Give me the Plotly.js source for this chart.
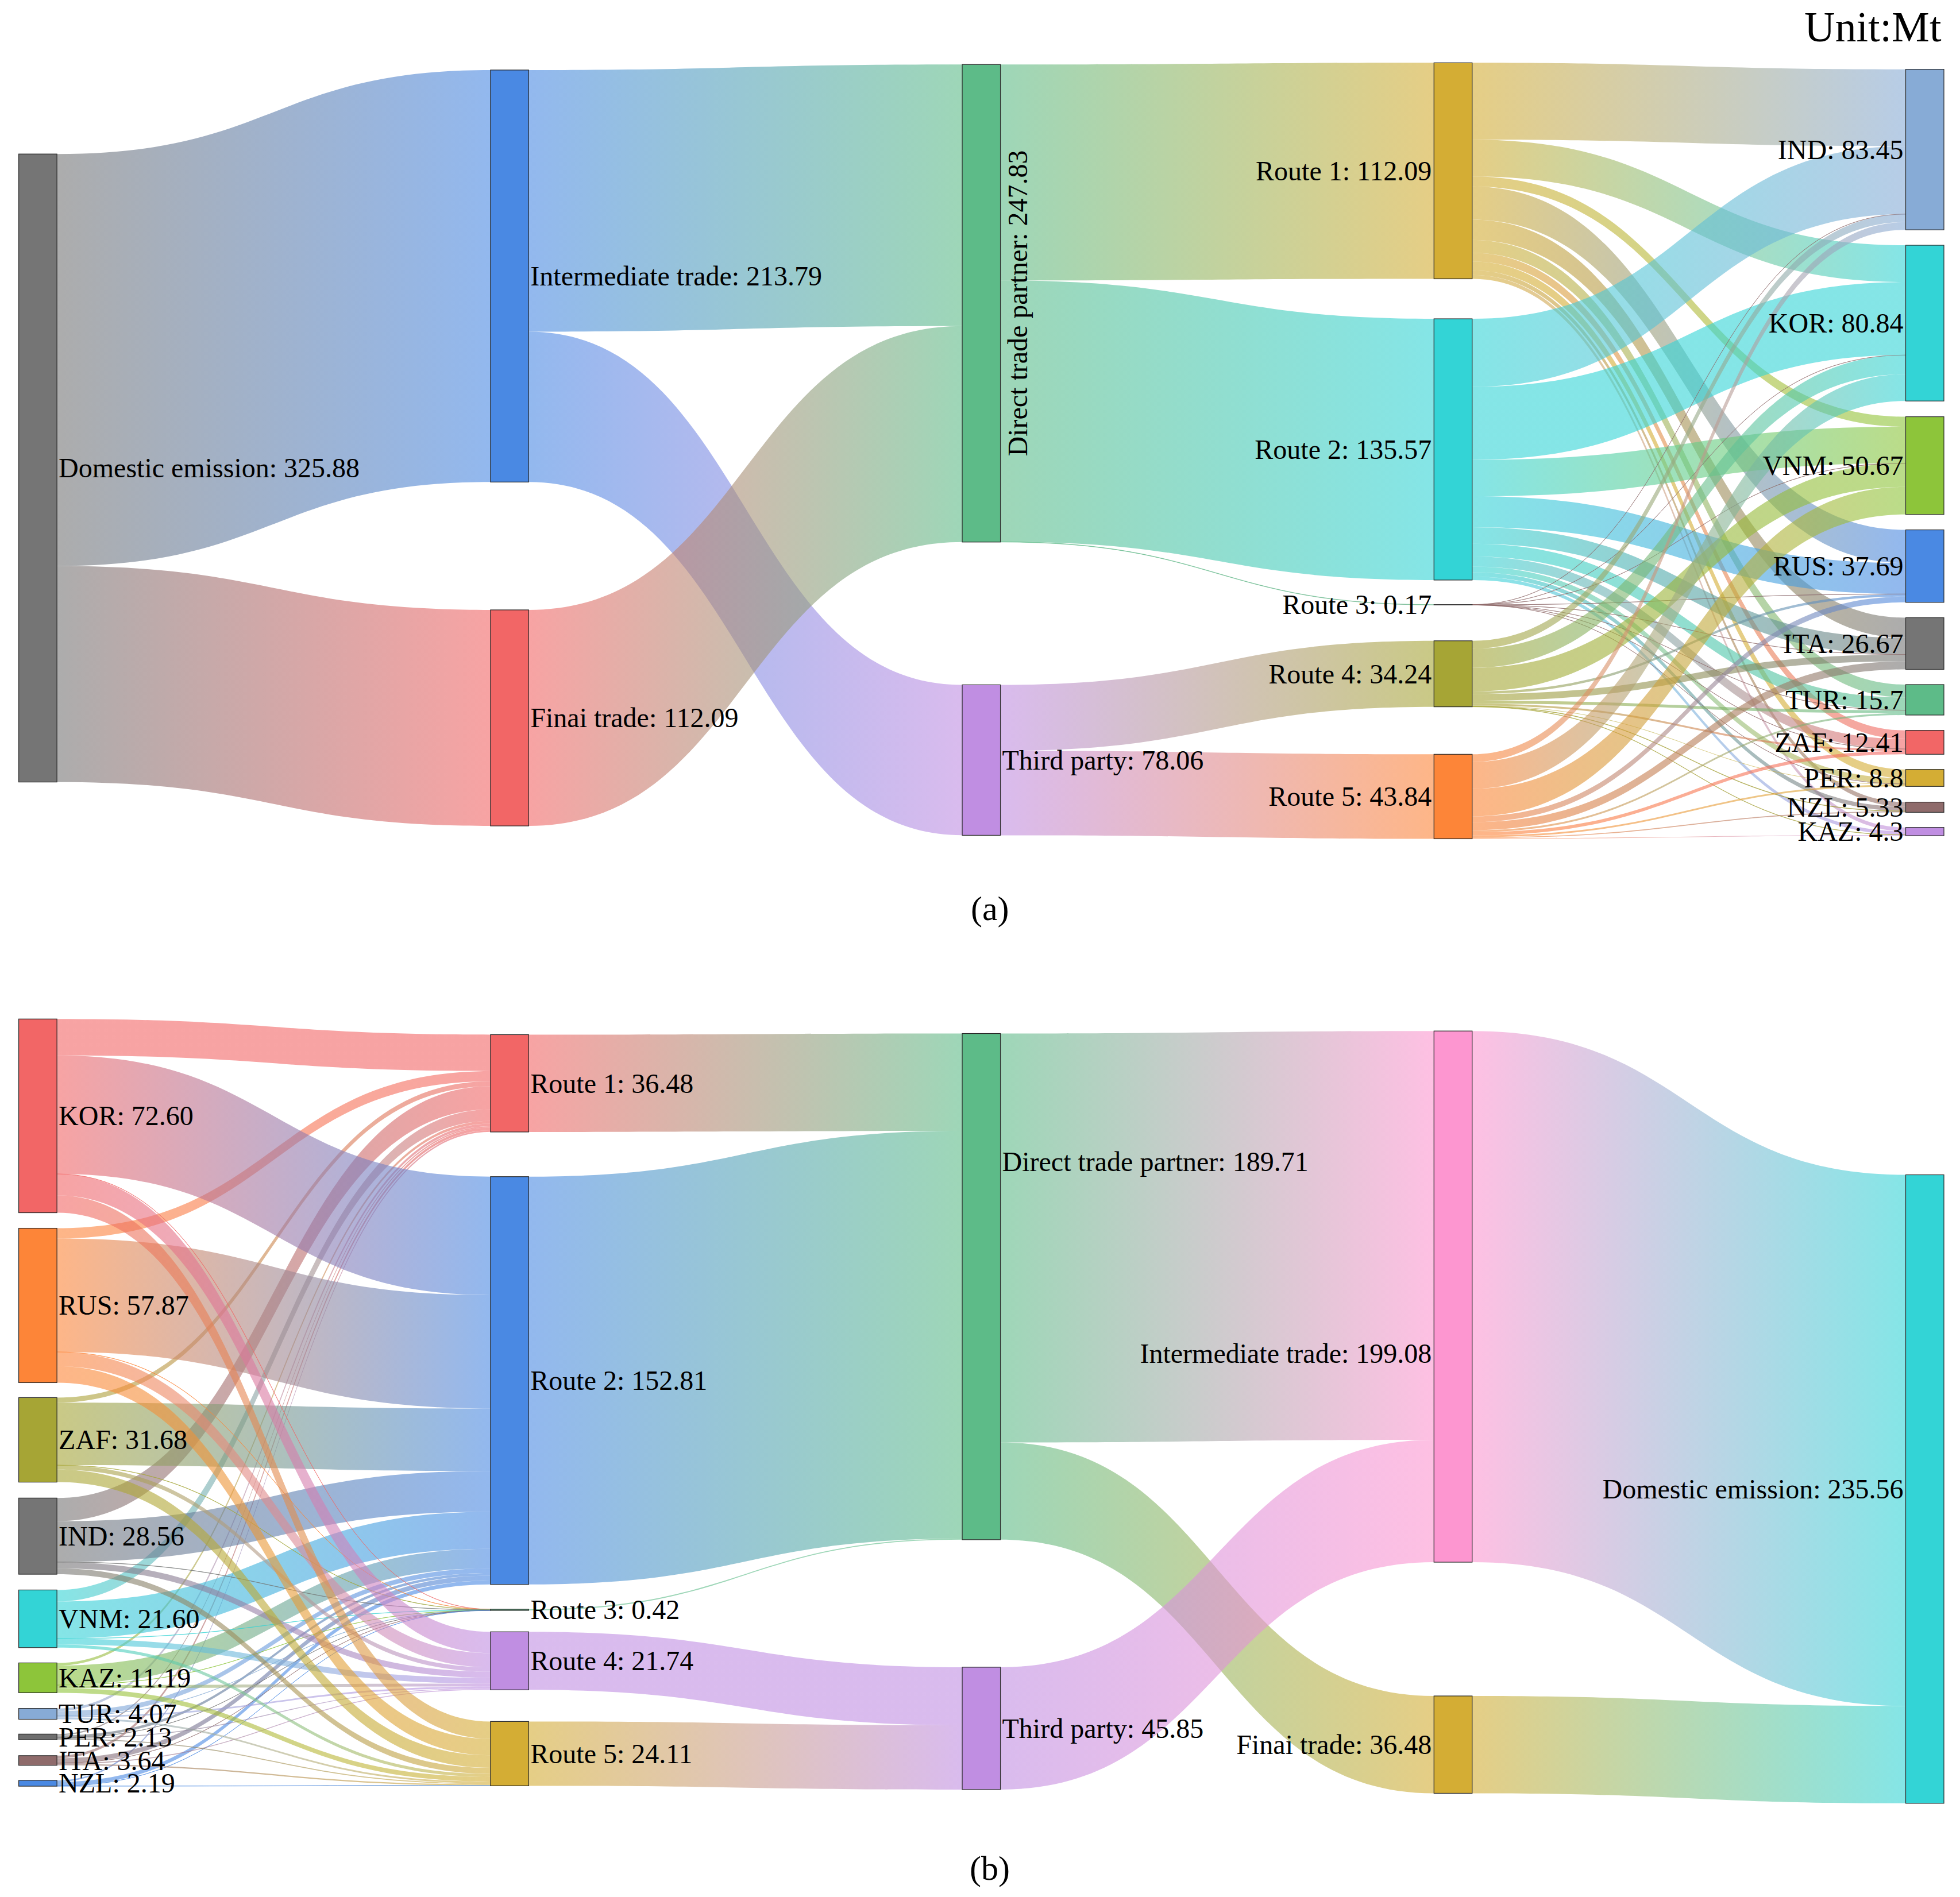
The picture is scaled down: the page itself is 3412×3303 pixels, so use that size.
<!DOCTYPE html>
<html>
<head>
<meta charset="utf-8">
<script src="https://cdn.plot.ly/plotly-3.0.1.min.js"></script>
<style>
html,body{margin:0;padding:0;background:#ffffff;}
#chart{width:3412px;height:3303px;}
</style>
</head>
<body>
<div id="chart"></div>
<script>
// ================= DATA : panel (a) =================
const nodesA  = ['Domestic emission','Intermediate trade','Finai trade','Direct trade partner','Third party',
                 'Route 1','Route 2','Route 3','Route 4','Route 5',
                 'IND','KOR','VNM','RUS','ITA','TUR','ZAF','PER','NZL','KAZ'];
const totalsA = ['325.88','213.79','112.09','247.83','78.06',
                 '112.09','135.57','0.17','34.24','43.84',
                 '83.45','80.84','50.67','37.69','26.67','15.7','12.41','8.8','5.33','4.3'];
const upperSrcA = ['Domestic emission','Domestic emission','Intermediate trade','Intermediate trade','Finai trade',
                   'Direct trade partner','Direct trade partner','Direct trade partner','Third party','Third party'];
const upperTgtA = ['Intermediate trade','Finai trade','Direct trade partner','Third party','Direct trade partner',
                   'Route 1','Route 2','Route 3','Route 4','Route 5'];
const upperValA = [213.79,112.09,135.74,78.05,112.09,112.09,135.57,0.17,34.24,43.84];
const routesA    = ['Route 1','Route 2','Route 3','Route 4','Route 5'];
const countriesA = ['IND','KOR','VNM','RUS','ITA','TUR','ZAF','PER','NZL','KAZ'];
const route1A = [39.9, 19.1, 5.2, 17.2, 10.5, 6.7, 4.5, 4.6, 2.4, 2.0];
const route2A = [35.27, 37.9, 18.9, 16.1, 8.6, 6.6, 5.2, 3.0, 2.2, 1.8];
const route3A = [0.03, 0.03, 0.03, 0.03, 0.02, 0.01, 0.01, 0.01, 0, 0];
const route4A = [4.1, 9.9, 12.3, 1.3, 3.5, 1.5, 1.0, 0.3, 0.2, 0.14];
const route5A = [4.0, 13.9, 14.3, 3.0, 4.2, 1.0, 1.7, 0.9, 0.5, 0.34];

// ================= DATA : panel (b) =================
const nodesB  = ['KOR','RUS','ZAF','IND','VNM','KAZ','TUR','PER','ITA','NZL',
                 'Route 1','Route 2','Route 3','Route 4','Route 5',
                 'Direct trade partner','Third party','Intermediate trade','Finai trade','Domestic emission'];
const totalsB = ['72.60','57.87','31.68','28.56','21.60','11.19','4.07','2.13','3.64','2.19',
                 '36.48','152.81','0.42','21.74','24.11',
                 '189.71','45.85','199.08','36.48','235.56'];
const countriesB = ['KOR','RUS','ZAF','IND','VNM','KAZ','TUR','PER','ITA','NZL'];
const routesB    = ['Route 1','Route 2','Route 3','Route 4','Route 5'];
const route1B = [13.65, 3.85, 1.9, 8.65, 4.3, 1.0, 1.0, 0.5, 1.0, 0.6];
const route2B = [44.4, 42.5, 23.4, 15.3, 13.9, 7.3, 1.8, 0.95, 1.8, 1.5];
const route3B = [0.05, 0.05, 0.08, 0.08, 0.06, 0.04, 0.03, 0.01, 0.01, 0.01];
const route4B = [8.0, 5.3, 1.6, 2.3, 2.2, 1.1, 0.6, 0.3, 0.35, 0];
const route5B = [6.5, 6.17, 4.7, 2.23, 1.14, 1.75, 0.64, 0.37, 0.48, 0.08];
const upperSrcB = ['Route 1','Route 2','Route 3','Route 4','Route 5',
                   'Direct trade partner','Direct trade partner','Third party','Intermediate trade','Finai trade'];
const upperTgtB = ['Direct trade partner','Direct trade partner','Direct trade partner','Third party','Third party',
                   'Intermediate trade','Finai trade','Intermediate trade','Domestic emission','Domestic emission'];
const upperValB = [36.48,152.81,0.42,21.74,24.11,153.23,36.48,45.85,199.08,36.48];

// ================= STYLE / LAYOUT =================
const colorsA = ['#757575','#4a89e3','#f26666','#5dbb88','#c08ee2',
                 '#d4ad34','#33d4d6','#8f6b6b','#a6a535','#fd8538',
                 '#87abd6','#33d4d6','#8dc53a','#4a89e3','#757575','#5dbb88','#f26666','#d4ad34','#8f6b6b','#c08ee2'];
const colorsB = ['#f26666','#fd8538','#a6a535','#757575','#33d4d6','#8dc53a','#87abd6','#6e6e6e','#8f6b6b','#4a89e3',
                 '#f26666','#4a89e3','#5dbb88','#c08ee2','#d4ad34',
                 '#5dbb88','#c08ee2','#fd96d0','#d4ad34','#33d4d6'];
const columnA = [0,1,1,2,2,3,3,3,3,3,4,4,4,4,4,4,4,4,4,4];
const columnB = [0,0,0,0,0,0,0,0,0,0,1,1,1,1,1,2,2,3,3,4];
// vertical centre of each node in page pixels (layout)
const centerYA = [814.9,480.6,1250,528,1323.4,
                  297.4,782.5,1053,1173.2,1386.9,
                  260.4,562.6,810.7,985.7,1120.5,1218.5,1292.5,1354.5,1405.5,1447.9];
const centerYB = [1942.9,2273,2507,2674.7,2818.6,2921.4,2984.1,3024.3,3065.3,3105,
                  1886.2,2403.8,2803,2891.8,3053.4,
                  2240.2,3009.4,2257.6,3037.7,2592.7];
// label side: r = right, l = left, v = vertical on the right; labelDy = vertical shift of a label
const sideA = ['r','r','r','v','r','l','l','l','l','l','l','l','l','l','l','l','l','l','l','l'];
const sideB = ['r','r','r','r','r','r','r','r','r','r','r','r','r','r','r','r','r','l','l','l'];
const labelDyA = new Array(20).fill(0);
const labelDyB = [0,0,0,0,0,0,0,0,0,0, 0,0,0,0,0, -218,0,99,0,0];

const FIG_W = 3412, FIG_H = 3303;
const THICK = 66.5;
const FONT = 'Liberation Serif, Times New Roman, serif';
const FONT_SIZE = 48;
const boxA = {left: 32.6, right: 3384, top: 109, bottom: 1460, pad: 28.6};
const boxB = {left: 32.6, right: 3384, top: 1774, bottom: 3140, pad: 30.2};

function rgba(hex, a) {
  const n = parseInt(hex.slice(1), 16);
  return 'rgba(' + ((n >> 16) & 255) + ',' + ((n >> 8) & 255) + ',' + (n & 255) + ',' + a + ')';
}

function buildLinks(nodes, upSrc, upTgt, upVal, routes, countries, matrix, routesFirst) {
  const s = [], t = [], v = [];
  for (let i = 0; i < upSrc.length; i++) {
    s.push(nodes.indexOf(upSrc[i])); t.push(nodes.indexOf(upTgt[i])); v.push(upVal[i]);
  }
  routes.forEach((r, ri) => {
    countries.forEach((c, ci) => {
      const val = matrix[ri][ci];
      if (val > 0) {
        if (routesFirst) { s.push(nodes.indexOf(r)); t.push(nodes.indexOf(c)); }
        else { s.push(nodes.indexOf(c)); t.push(nodes.indexOf(r)); }
        v.push(val);
      }
    });
  });
  return {s, t, v};
}

function makeTrace(nodes, totals, colors, column, centerY, box, links) {
  const W = box.right - box.left, H = box.bottom - box.top;
  const ncol = Math.max.apply(null, column) + 1;
  const xs = column.map(c => (c * (W - THICK) / (ncol - 1) + THICK / 2) / W);
  const ys = centerY.map(y => (y - box.top) / H);
  return {
    type: 'sankey',
    arrangement: 'fixed',
    domain: {x: [box.left / FIG_W, box.right / FIG_W], y: [1 - box.bottom / FIG_H, 1 - box.top / FIG_H]},
    textfont: {family: FONT, size: FONT_SIZE, color: '#000000'},
    node: {
      label: nodes.map((n, i) => n + ': ' + totals[i]),
      color: colors,
      x: xs, y: ys,
      pad: box.pad,
      thickness: THICK,
      line: {color: '#2a2a2a', width: 1.2},
      hoverinfo: 'none'
    },
    link: {
      source: links.s, target: links.t, value: links.v,
      color: links.s.map(i => rgba(colors[i], 0.6)),
      hoverinfo: 'none'
    }
  };
}

const linksA = buildLinks(nodesA, upperSrcA, upperTgtA, upperValA, routesA, countriesA,
                          [route1A, route2A, route3A, route4A, route5A], true);
const linksB = buildLinks(nodesB, upperSrcB, upperTgtB, upperValB, routesB, countriesB,
                          [route1B, route2B, route3B, route4B, route5B], false);

const traceA = makeTrace(nodesA, totalsA, colorsA, columnA, centerYA, boxA, linksA);
const traceB = makeTrace(nodesB, totalsB, colorsB, columnB, centerYB, boxB, linksB);

const layout = {
  width: FIG_W, height: FIG_H,
  margin: {l: 0, r: 0, t: 0, b: 0},
  paper_bgcolor: '#ffffff',
  font: {family: FONT, color: '#000000'},
  annotations: [
    {text: 'Unit:Mt', xref: 'paper', yref: 'paper', x: 3382 / FIG_W, y: 1 - 47 / FIG_H,
     xanchor: 'right', yanchor: 'middle', showarrow: false, font: {family: FONT, size: 74, color: '#000'}},
    {text: '(a)', xref: 'paper', yref: 'paper', x: 1723 / FIG_W, y: 1 - 1582 / FIG_H,
     xanchor: 'center', yanchor: 'middle', showarrow: false, font: {family: FONT, size: 60, color: '#000'}},
    {text: '(b)', xref: 'paper', yref: 'paper', x: 1723 / FIG_W, y: 1 - 3253 / FIG_H,
     xanchor: 'center', yanchor: 'middle', showarrow: false, font: {family: FONT, size: 60, color: '#000'}}
  ]
};

const specs = [{colors: colorsA, side: sideA, dy: labelDyA}, {colors: colorsB, side: sideB, dy: labelDyB}];
const gd = document.getElementById('chart');

function decorate() {
  const NS = 'http://www.w3.org/2000/svg';
  const svg = gd.querySelector('svg.main-svg');
  if (!svg) return;
  let defs = svg.querySelector('defs');
  if (!defs) { defs = document.createElementNS(NS, 'defs'); svg.insertBefore(defs, svg.firstChild); }
  const groups = Array.from(gd.querySelectorAll('.sankey'));
  // gradient links (source colour -> target colour)
  gd.querySelectorAll('.sankey-link').forEach((p, k) => {
    const d = p.__data__;
    if (!d || !d.link) return;
    const grp = p.closest('.sankey');
    const ti = Math.max(0, groups.indexOf(grp));
    const spec = specs[ti] || specs[0];
    const sIdx = d.link.source && d.link.source.pointNumber;
    const tIdx = d.link.target && d.link.target.pointNumber;
    if (sIdx === undefined || tIdx === undefined) return;
    const id = 'lgrad_' + ti + '_' + k;
    let g = document.getElementById(id);
    if (!g) {
      g = document.createElementNS(NS, 'linearGradient');
      g.setAttribute('id', id);
      g.setAttribute('x1', '0'); g.setAttribute('y1', '0');
      g.setAttribute('x2', '1'); g.setAttribute('y2', '0');
      [[0, spec.colors[sIdx]], [1, spec.colors[tIdx]]].forEach(([o, c]) => {
        const st = document.createElementNS(NS, 'stop');
        st.setAttribute('offset', o);
        st.setAttribute('stop-color', c);
        g.appendChild(st);
      });
      defs.appendChild(g);
    }
    p.style.fill = 'url(#' + id + ')';
    p.style.fillOpacity = '0.6';
  });
  // node labels
  gd.querySelectorAll('.sankey-node').forEach(nd => {
    const d = nd.__data__;
    if (!d) return;
    const grp = nd.closest('.sankey');
    const ti = Math.max(0, groups.indexOf(grp));
    const spec = specs[ti] || specs[0];
    const idx = (d.node && d.node.pointNumber !== undefined) ? d.node.pointNumber : d.pointNumber;
    const side = spec.side[idx];
    const dy = spec.dy[idx] || 0;
    const txt = nd.querySelector('text.node-label');
    const rect = nd.querySelector('rect');
    if (!txt || !side) return;
    let w = d.visibleWidth, h = d.visibleHeight;
    if (rect) {
      const rw = parseFloat(rect.getAttribute('width')), rh = parseFloat(rect.getAttribute('height'));
      if (!isNaN(rw)) w = rw;
      if (!isNaN(rh)) h = rh;
    }
    const baseY = h / 2 + 0.34 * FONT_SIZE + dy;
    txt.style.textShadow = 'none';
    if (side === 'r') {
      txt.setAttribute('text-anchor', 'start');
      txt.setAttribute('transform', 'translate(' + (w + 3) + ',' + baseY + ')');
    } else if (side === 'l') {
      txt.setAttribute('text-anchor', 'end');
      txt.setAttribute('transform', 'translate(' + (-4) + ',' + baseY + ')');
    } else if (side === 'v') {
      txt.setAttribute('text-anchor', 'middle');
      txt.setAttribute('transform', 'translate(' + (w + 46) + ',' + (h / 2 + dy) + ') rotate(-90)');
    }
  });
}

Plotly.newPlot(gd, [traceA, traceB], layout, {staticPlot: true, displayModeBar: false}).then(() => {
  decorate();
  setTimeout(decorate, 300);
  setTimeout(decorate, 900);
});
</script>
</body>
</html>
